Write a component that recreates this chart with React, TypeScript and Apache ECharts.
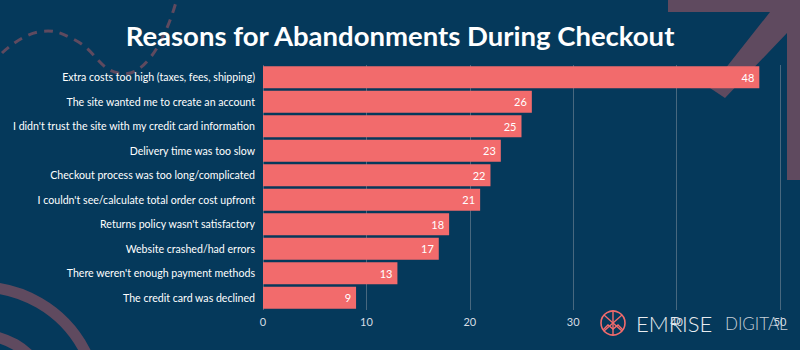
import React, { useEffect, useRef } from "react";
import * as echarts from "echarts";

const categories = [
  "Extra costs too high (taxes, fees, shipping)",
  "The site wanted me to create an account",
  "I didn't trust the site with my credit card information",
  "Delivery time was too slow",
  "Checkout process was too long/complicated",
  "I couldn't see/calculate total order cost upfront",
  "Returns policy wasn't satisfactory",
  "Website crashed/had errors",
  "There weren't enough payment methods",
  "The credit card was declined",
];
const values = [48, 26, 25, 23, 22, 21, 18, 17, 13, 9];
const xTicks = [0, 10, 20, 30, 40, 50];

const BG = "#05395b";
const BAR = "#f26b6c";
const DECO = "#5f4a5f";

export default function App() {
  const ref = useRef<HTMLDivElement>(null);
  useEffect(() => {
    document.body.style.margin = "0";
    if (!ref.current) return;
    const chart = echarts.init(ref.current, null, { renderer: "svg" });
    chart.setOption({
      animation: false,
      backgroundColor: BG,
      title: {
        text: "Reasons for Abandonments During Checkout",
        left: "center",
        top: 16,
        textStyle: {
          color: "#ffffff",
          fontSize: 27.5,
          fontWeight: "bold",
          fontFamily: "Lato",
        },
      },
      grid: { left: 263, right: 20, top: 65, bottom: 40, containLabel: false },
      xAxis: {
        type: "value",
        min: 0,
        max: 50,
        interval: 10,
        axisLine: { show: false },
        axisTick: { show: false },
        axisLabel: {
          color: "#d6dde4",
          fontSize: 11,
          fontFamily: "Lato",
          margin: 6,
          formatter: (v: number) => (xTicks.includes(v) ? String(v) : ""),
        },
        splitLine: { show: true, lineStyle: { color: "#48687f", width: 1 } },
      },
      yAxis: {
        type: "category",
        data: categories,
        inverse: true,
        axisLine: { show: false },
        axisTick: { show: false },
        axisLabel: {
          color: "#ffffff",
          fontSize: 10.6,
          fontFamily: "Lato",
          margin: 8,
        },
      },
      series: [
        {
          type: "bar",
          data: values,
          barCategoryGap: "10%",
          z: 3,
          itemStyle: { color: BAR },
          label: {
            show: true,
            position: "insideRight",
            distance: 5,
            color: "#ffffff",
            fontSize: 11,
            fontFamily: "Lato",
          },
        },
      ],
      graphic: [
        {
          type: "polyline",
          z: 0,
          shape: {
            points: [
              [2, 53],
              [38, 32],
              [75, 40],
              [118, 73],
              [150, 58],
              [176, 2],
            ],
            smooth: 0.45,
          },
          style: { stroke: DECO, lineWidth: 3, lineDash: [9, 7], fill: null },
        },
        {
          type: "polygon",
          z: 0,
          shape: {
            points: [
              [668, -5],
              [810, -5],
              [810, 180],
              [787, 180],
              [787, 33],
              [725, 98],
              [710, 88],
              [770, 12],
              [668, 12],
            ],
          },
          style: { fill: DECO },
        },
        {
          type: "arc",
          z: 0,
          shape: { cx: -20, cy: 405, r: 118, startAngle: 0, endAngle: Math.PI * 2 },
          style: { stroke: DECO, lineWidth: 11, fill: null },
        },
        {
          type: "arc",
          z: 0,
          shape: { cx: -20, cy: 405, r: 70, startAngle: 0, endAngle: Math.PI * 2 },
          style: { stroke: DECO, lineWidth: 11, fill: null },
        },
        {
          type: "group",
          z: 5,
          children: [
            {
              type: "circle",
              shape: { cx: 613, cy: 323, r: 12 },
              style: { stroke: BAR, lineWidth: 1.6, fill: null },
            },
            {
              type: "line",
              shape: { x1: 613, y1: 311, x2: 613, y2: 335 },
              style: { stroke: BAR, lineWidth: 1.4 },
            },
            {
              type: "line",
              shape: { x1: 604, y1: 315, x2: 622, y2: 331 },
              style: { stroke: BAR, lineWidth: 1.4 },
            },
            {
              type: "line",
              shape: { x1: 622, y1: 315, x2: 604, y2: 331 },
              style: { stroke: BAR, lineWidth: 1.4 },
            },
            {
              type: "polyline",
              shape: { points: [[603, 330], [608, 325], [613, 329], [618, 325], [623, 330]] },
              style: { stroke: BAR, lineWidth: 1.4, fill: null },
            },
            {
              type: "text",
              style: {
                x: 636,
                y: 323,
                text: "EMRISE",
                fill: "#e8ecf0",
                fontSize: 22,
                fontWeight: 300,
                fontFamily: "Lato",
                verticalAlign: "middle",
              },
            },
            {
              type: "text",
              style: {
                x: 725,
                y: 323,
                text: "DIGITAL",
                fill: "#c8d0d8",
                fontSize: 17,
                fontWeight: 300,
                fontFamily: "Lato",
                verticalAlign: "middle",
              },
            },
          ],
        },
      ],
    });
    return () => chart.dispose();
  }, []);
  return <div ref={ref} style={{ width: 800, height: 350 }} />;
}
